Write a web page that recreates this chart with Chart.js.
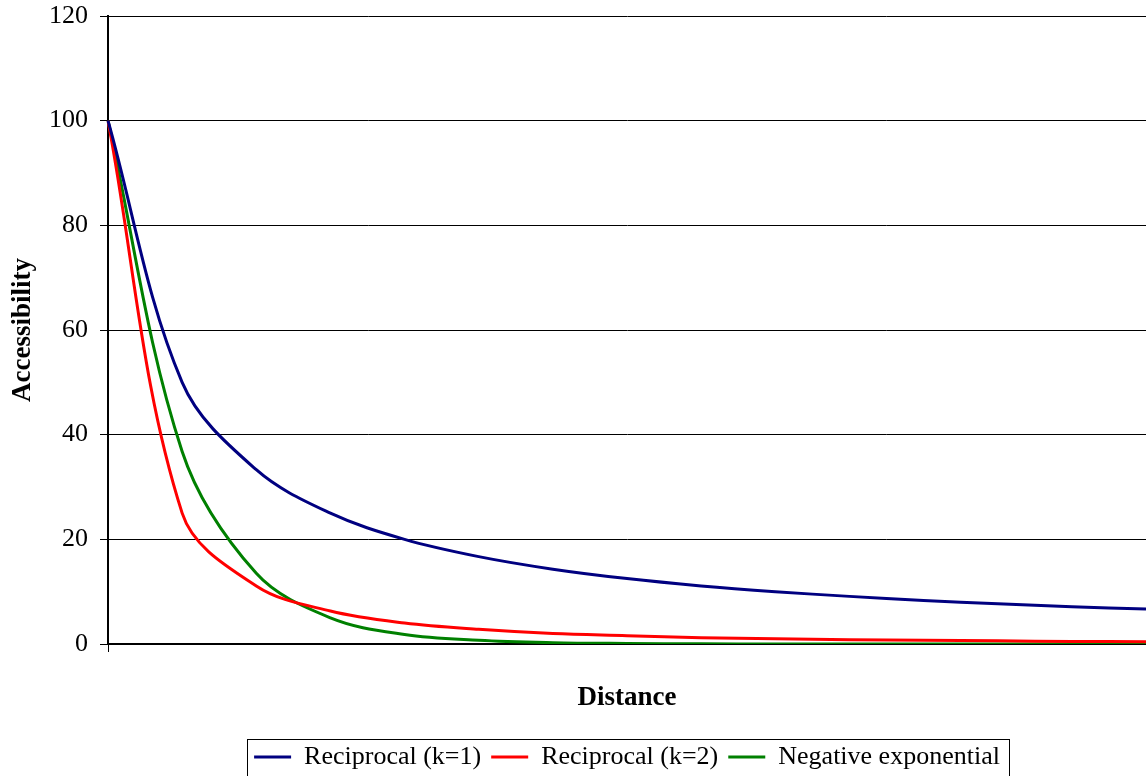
<!DOCTYPE html>
<html>
<head>
<meta charset="utf-8">
<script src="https://cdn.jsdelivr.net/npm/chart.js@4"></script>
<style>
  html, body { margin: 0; padding: 0; background: #fff; }
  #wrap { width: 1146px; height: 776px; }
</style>
</head>
<body>
<div id="wrap"><canvas id="accessChart" width="1146" height="776"></canvas></div>
<script>
// distance steps (no labels shown on the axis)
const distances = ['1', '2', '3', '4', '5', '6', '7', '8', '9', '10', '11', '12', '13', '14', '15'];

const reciprocalK1 = [100, 50, 33.3, 25, 20, 16.7, 14.3, 12.5, 11.1, 10, 9.1, 8.3, 7.7, 7.1, 6.7];
const reciprocalK2 = [100, 25, 11.1, 6.3, 4, 2.8, 2, 1.6, 1.2, 1, 0.8, 0.7, 0.6, 0.5, 0.45];
const negativeExp = [100, 36.8, 13.5, 5, 1.8, 0.7, 0.25, 0.1, 0.03, 0.01, 0, 0, 0, 0, 0];

const yMin = 0;
const yMax = 120;
const yStep = 20;

const serif = "'Liberation Serif', 'Times New Roman', serif";

// Excel style frame round the legend
const legendBorder = {
  id: 'legendBorder',
  afterDraw(chart) {
    const boxes = chart.legend && chart.legend.legendHitBoxes;
    if (!boxes || !boxes.length) return;
    let left = Infinity, right = -Infinity, top = Infinity;
    boxes.forEach(b => {
      left = Math.min(left, b.left);
      right = Math.max(right, b.left + b.width);
      top = Math.min(top, b.top);
    });
    const ctx = chart.ctx;
    ctx.save();
    ctx.strokeStyle = '#000';
    ctx.lineWidth = 1;
    ctx.strokeRect(Math.round(left - 7) + 0.5, Math.round(top - 5) + 0.5,
      Math.round(right - left + 16), chart.height);
    ctx.restore();
  }
};

const ctx = document.getElementById('accessChart').getContext('2d');

const chart = new Chart(ctx, {
  type: 'line',
  data: {
    labels: distances,
    datasets: [
      {
        label: 'Reciprocal (k=1)',
        data: reciprocalK1,
        borderColor: '#000080',
        backgroundColor: '#000080',
        borderWidth: 3,
        pointRadius: 0,
        tension: 0.35
      },
      {
        label: 'Reciprocal (k=2)',
        data: reciprocalK2,
        borderColor: '#ff0000',
        backgroundColor: '#ff0000',
        borderWidth: 3,
        pointRadius: 0,
        tension: 0.35
      },
      {
        label: 'Negative exponential',
        data: negativeExp,
        borderColor: '#008000',
        backgroundColor: '#008000',
        borderWidth: 3,
        pointRadius: 0,
        tension: 0.35
      }
    ]
  },
  options: {
    responsive: false,
    animation: false,
    layout: { padding: { top: 16, right: 0, left: 0, bottom: 0 } },
    plugins: {
      tooltip: { enabled: false },
      legend: {
        position: 'bottom',
        fullSize: false,
        maxHeight: 42,
        labels: {
          color: '#000',
          font: { family: serif, size: 26, lineHeight: 1 },
          usePointStyle: true,
          pointStyle: 'line',
          pointStyleWidth: 37,
          boxWidth: 37,
          boxHeight: 3,
          padding: 10
        }
      }
    },
    scales: {
      x: {
        offset: false,
        title: {
          display: true,
          text: 'Distance',
          color: '#000',
          font: { family: serif, size: 27, weight: 'bold' },
          padding: { top: 0, bottom: 20 }
        },
        ticks: { display: true, callback: () => '', color: '#000' },
        grid: {
          drawOnChartArea: false,
          tickLength: 8,
          color: c => c.index === 0 ? '#000' : 'rgba(0,0,0,0)'
        },
        border: { color: '#000', width: 2 },
        afterFit: scale => {
          scale.height = 90;
          scale.paddingLeft = 0;
          scale.paddingRight = 0;
        }
      },
      y: {
        min: yMin,
        max: yMax,
        title: {
          display: true,
          text: 'Accessibility',
          color: '#000',
          font: { family: serif, size: 27, weight: 'bold' },
          padding: { top: 7, bottom: 0 }
        },
        ticks: {
          stepSize: yStep,
          color: '#000',
          padding: 12,
          font: { family: serif, size: 26 }
        },
        grid: { color: '#000', lineWidth: 1, tickLength: 8 },
        border: { color: '#000', width: 2 },
        afterFit: scale => {
          scale.width = 108;
          scale.paddingTop = 0;
          scale.paddingBottom = 0;
        }
      }
    }
  },
  plugins: [legendBorder]
});
</script>
</body>
</html>
